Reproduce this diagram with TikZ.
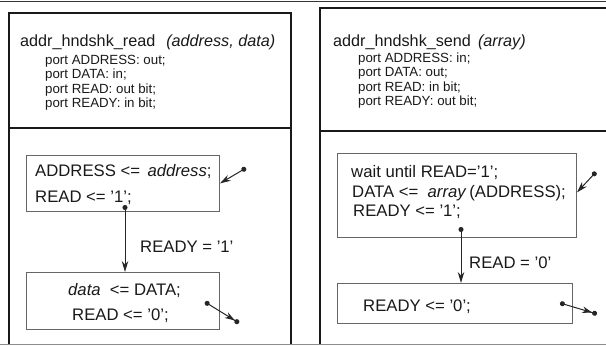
\documentclass[tikz,border=0pt]{standalone}
\usepackage{fontspec}
\setmainfont{Liberation Sans}
\usetikzlibrary{arrows.meta}
\begin{document}
\begin{tikzpicture}[x=1pt,y=-1pt,
 txt/.style={anchor=base west, inner sep=0pt, font=\fontsize{16.7}{20}\selectfont, text=black!90},
 head/.style={txt, font=\fontsize{16.2}{18}\selectfont},
 port/.style={txt, font=\fontsize{13.3}{14}\selectfont},
 outer/.style={line width=2.2pt, draw=black!90},
 divider/.style={line width=1.8pt, draw=black!90},
 ibox/.style={draw=black!60, line width=0.9pt, anchor=north west, inner sep=0pt},
 trans/.style={draw=black!85, line width=1pt, {Circle[length=5pt]}-{Stealth[length=11pt,width=6.5pt]}},
 exitarr/.style={draw=black!85, line width=1pt, {Circle[length=5pt]}-{Stealth[length=10pt,width=6.5pt]Circle[length=5pt]}},
]
\useasboundingbox (0,0) rectangle (606,346);
% page rules
\draw[line width=1.4pt, black!80] (0,1.5) -- (606,1.5);
\draw[line width=0.8pt, black!45] (0,344.5) -- (606,344.5);

% ---------- left box ----------
\draw[outer] (9,344) -- (9,13) -- (291,13) -- (291,344);
\draw[divider] (9,128) -- (291,128);
\node[head] (lh) at (20,46) {addr\_hndshk\_read\hspace{11pt}\textit{(address, data)}};
\node[port] (lp1) at (45,64) {port ADDRESS: out;};
\node[port] (lp2) at (45,78.5) {port DATA: in;};
\node[port] (lp3) at (45,93) {port READ: out bit;};
\node[port] (lp4) at (45,107.5) {port READY: in bit;};

\node[ibox, minimum width=193pt, minimum height=56pt] (L1) at (26,155) {};
\node[txt] (l1a) at (35,176) {ADDRESS <=\ \,\textit{address};};
\node[txt] (l1b) at (35,202) {READ <= '1';};
\node[ibox, minimum width=193pt, minimum height=57pt] (L2) at (26,272) {};
\node[txt] (l2a) at (68,295) {\textit{data}\ \ <= DATA;};
\node[txt] (l2b) at (72,320) {READ <= '0';};

\coordinate (la) at (125,205);
\draw[trans] (la) -- (la |- L2.north);
\node[txt] (llab) at (140,252) {READY = '1'};
\coordinate (le) at (246,168);
\draw[trans] (le) -- (L1.east);
\coordinate (lx) at (205,302);
\coordinate (lxe) at (239,323);
\draw[exitarr] (lx) -- (lxe);

% ---------- right box ----------
\draw[outer] (606,8) -- (320,8) -- (320,344);
\draw[divider] (320,131) -- (606,131);
\node[head] (rh) at (333,46) {addr\_hndshk\_send\hspace{7pt}\textit{(array)}};
\node[port] (rp1) at (358,62) {port ADDRESS: in;};
\node[port] (rp2) at (358,76.5) {port DATA: out;};
\node[port] (rp3) at (358,91) {port READ: in bit;};
\node[port] (rp4) at (358,105.5) {port READY: out bit;};

\node[ibox, minimum width=239pt, minimum height=84pt] (R1) at (337,153) {};
\node[txt] (r1a) at (351,177) {wait until READ='1';};
\node[txt] (r1b) at (352,197) {DATA <=\ \ \textit{array}\,(ADDRESS);};
\node[txt] (r1c) at (353,216) {READY <= '1';};
\node[ibox, minimum width=235pt, minimum height=40pt] (R2) at (337,283) {};
\node[txt] (r2a) at (363,311) {READY <= '0';};

\coordinate (ra) at (461,227);
\draw[trans] (ra) -- (ra |- R2.north);
\node[txt] (rlab) at (469,268) {READ = '0'};
\coordinate (re) at (596,172);
\draw[trans] (re) -- ([yshift=3pt]R1.east);
\coordinate (rx) at (560,303);
\coordinate (rxe) at (597,314);
\draw[exitarr] (rx) -- (rxe);
\end{tikzpicture}
\end{document}
